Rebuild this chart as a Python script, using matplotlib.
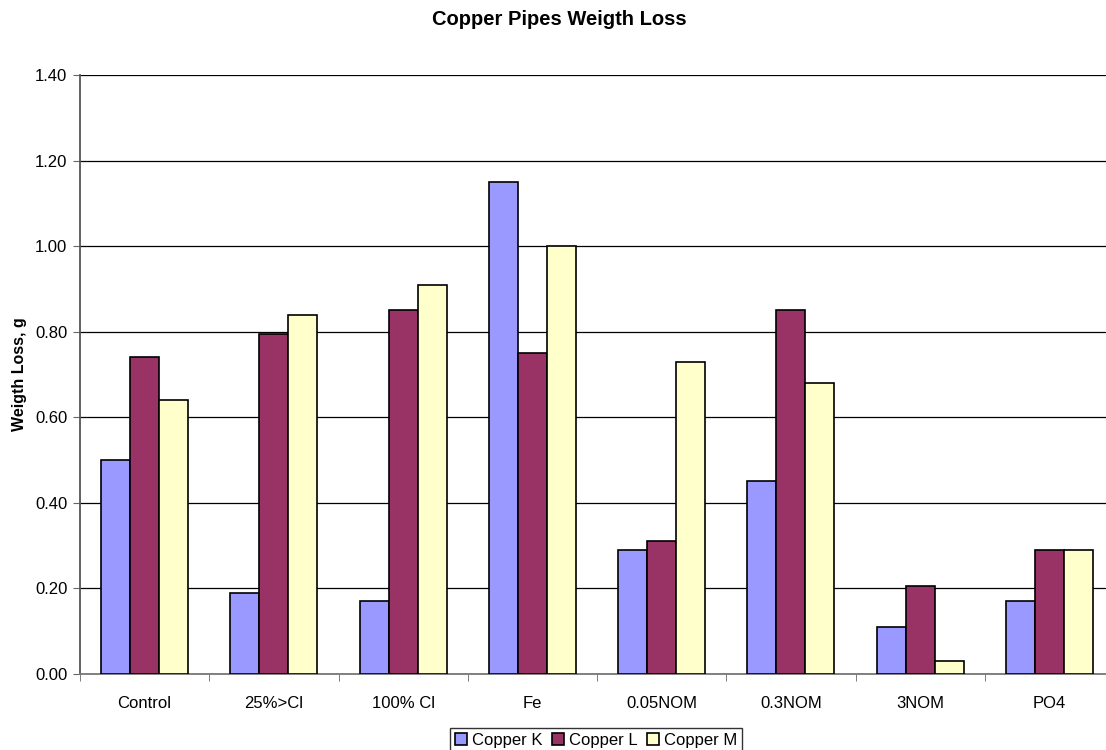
import numpy as np
import matplotlib.pyplot as plt
from matplotlib.ticker import FixedLocator, NullFormatter

plt.rcParams['font.family'] = ['Liberation Sans', 'DejaVu Sans']

categories = ["Control", "25%>Cl", "100% Cl", "Fe", "0.05NOM", "0.3NOM", "3NOM", "PO4"]
copper_k = [0.50, 0.19, 0.17, 1.15, 0.29, 0.45, 0.11, 0.17]
copper_l = [0.74, 0.795, 0.85, 0.75, 0.31, 0.85, 0.205, 0.29]
copper_m = [0.64, 0.84, 0.91, 1.00, 0.73, 0.68, 0.03, 0.29]
series = ["Copper K", "Copper L", "Copper M"]
colors = ["#9999FF", "#993366", "#FFFFCC"]

fig = plt.figure(figsize=(11.06, 7.5), dpi=100)
# plot area runs slightly past the right edge, as in the original
ax = fig.add_axes([80 / 1106, 76 / 750, 1034 / 1106, 599 / 750])

x = np.arange(len(categories))
w = 0.225
for i, (vals, lab, c) in enumerate(zip([copper_k, copper_l, copper_m], series, colors)):
    ax.bar(x + (i - 1) * w, vals, width=w, color=c, edgecolor="black",
           linewidth=1.2, label=lab, zorder=3)

ax.set_xlim(-0.5, len(categories) - 0.5)
ax.set_ylim(0, 1.4)
ax.set_yticks(np.arange(0, 1.41, 0.2))
ax.set_yticklabels(["%.2f" % v for v in np.arange(0, 1.41, 0.2)], fontsize=12)
ax.yaxis.grid(True, color="black", linewidth=0.9, zorder=0)

ax.set_xticks(x)
ax.set_xticklabels(categories, fontsize=12)
ax.tick_params(axis="x", which="major", length=0, pad=16)
ax.xaxis.set_minor_locator(FixedLocator(np.arange(-0.5, len(categories), 1)))
ax.xaxis.set_minor_formatter(NullFormatter())
ax.tick_params(axis="x", which="minor", length=5, color="#666666")
ax.tick_params(axis="y", length=5, color="#666666", pad=4)

for s in ["top", "right"]:
    ax.spines[s].set_visible(False)
ax.spines["left"].set_color("#555555")
ax.spines["bottom"].set_color("#777777")
ax.spines["left"].set_linewidth(1.3)
ax.spines["bottom"].set_linewidth(1.3)

ax.set_ylabel("Weigth Loss, g", fontsize=11.5, fontweight="bold", labelpad=6)
fig.suptitle("Copper Pipes Weigth Loss", fontsize=14.5, fontweight="bold",
             x=0.5055, y=0.987)

leg = fig.legend(loc="lower center", bbox_to_anchor=(0.539, -0.015), ncol=3,
                 fontsize=12, frameon=True, fancybox=False, edgecolor="black",
                 handlelength=0.7, handleheight=0.7, handletextpad=0.3,
                 columnspacing=0.6, borderpad=0.3)
leg.get_frame().set_linewidth(1.0)

fig.savefig("out.png", dpi=100)
